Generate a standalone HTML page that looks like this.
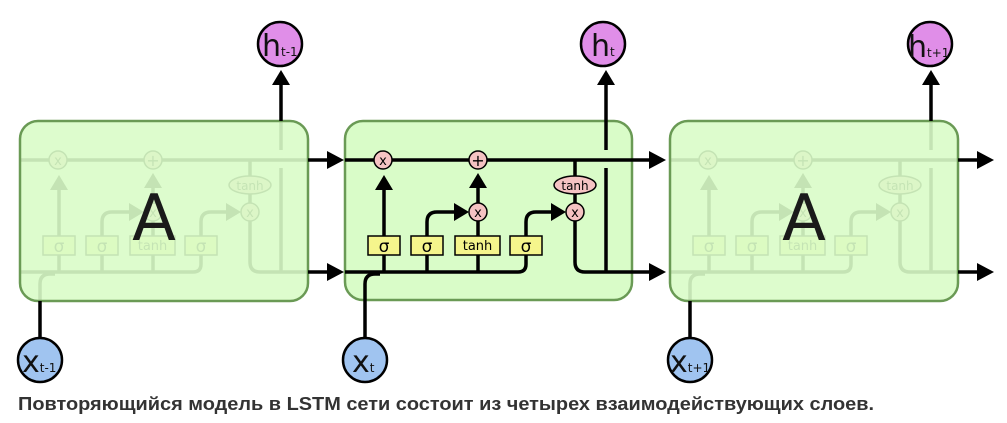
<!DOCTYPE html>
<html><head><meta charset="utf-8"><style>
html,body{margin:0;padding:0;background:#fff;width:1007px;height:423px;overflow:hidden}
svg{display:block}
</style></head><body>
<svg width="1007" height="423" viewBox="0 0 1007 423" xmlns="http://www.w3.org/2000/svg" font-family="DejaVu Sans, Liberation Sans, sans-serif">
<defs>
<g id="internals" fill="none" stroke="#000" stroke-width="3.5">
  <line x1="345" y1="160" x2="632" y2="160"/>
  <path d="M345 272 H518 Q526 272 526 264 V222 Q526 212 536 212 H552"/>
  <polygon points="551,203 566,212 551,221" fill="#000" stroke="none"/>
  <line x1="384" y1="272" x2="384" y2="190"/>
  <polygon points="375,190 384,175 393,190" fill="#000" stroke="none"/>
  <path d="M427 272 V222 Q427 212 437 212 H455"/>
  <polygon points="454,203 469,212 454,221" fill="#000" stroke="none"/>
  <line x1="478" y1="272" x2="478" y2="221"/>
  <line x1="478" y1="203" x2="478" y2="188"/>
  <polygon points="469,188 478,173 487,188" fill="#000" stroke="none"/>
  <path d="M575 160 V176"/>
  <path d="M575 194 V203"/>
  <path d="M575 221 V262 Q575 272 585 272 H632"/>
  <path d="M606 272 V168"/>
  <path d="M606 150 V121"/>
  <path d="M365 300 V284 Q365 274 375 274 H380"/>
  <g stroke-width="1.5">
  <circle cx="383" cy="160" r="9" fill="#f5c3c3"/>
  <circle cx="478" cy="160" r="9" fill="#f5c3c3"/>
  <circle cx="478" cy="212" r="9" fill="#f5c3c3"/>
  <circle cx="575" cy="212" r="9" fill="#f5c3c3"/>
  <ellipse cx="575" cy="185" rx="21" ry="9" fill="#f5c3c3"/>
  <rect x="368" y="236" width="32" height="19" fill="#f5f58c"/>
  <rect x="411" y="236" width="32" height="19" fill="#f5f58c"/>
  <rect x="455" y="236" width="45" height="19" fill="#f5f58c"/>
  <rect x="510" y="236" width="32" height="19" fill="#f5f58c"/>
  </g>
  <g fill="#000" stroke="none" text-anchor="middle">
  <text x="383" y="165" font-size="13">x</text>
  <text x="478" y="166" font-size="16">+</text>
  <text x="478" y="217" font-size="13">x</text>
  <text x="575" y="217" font-size="13">x</text>
  <text x="575" y="190" font-size="12">tanh</text>
  <text x="384" y="252" font-size="17">σ</text>
  <text x="427" y="252" font-size="17">σ</text>
  <text x="477.5" y="250" font-size="13">tanh</text>
  <text x="526" y="252" font-size="17">σ</text>
  </g>
</g>
</defs>

<rect x="345" y="121" width="287" height="179" rx="18" fill="#d9fcc8" stroke="#6a9a55" stroke-width="2.5"/>
<use href="#internals"/>

<g transform="translate(-325,0)"><use href="#internals"/></g>
<rect x="20" y="121" width="288" height="180" rx="18" fill="#d9fcc8" fill-opacity="0.9" stroke="#6a9a55" stroke-width="2.5"/>
<text x="154" y="240" font-size="64" text-anchor="middle" fill="#1a1a1a">A</text>

<g transform="translate(325,0)"><use href="#internals"/></g>
<rect x="670" y="121" width="288" height="180" rx="18" fill="#d9fcc8" fill-opacity="0.9" stroke="#6a9a55" stroke-width="2.5"/>
<text x="804" y="240" font-size="64" text-anchor="middle" fill="#1a1a1a">A</text>

<g stroke="#000" stroke-width="3.5" fill="none">
  <line x1="308" y1="160" x2="328" y2="160"/>
  <line x1="308" y1="272" x2="328" y2="272"/>
  <line x1="632" y1="160" x2="650" y2="160"/>
  <line x1="632" y1="272" x2="650" y2="272"/>
  <line x1="958" y1="160" x2="978" y2="160"/>
  <line x1="958" y1="272" x2="978" y2="272"/>
  <line x1="281" y1="121" x2="281" y2="84"/>
  <line x1="606" y1="121" x2="606" y2="84"/>
  <line x1="931" y1="121" x2="931" y2="84"/>
  <line x1="40" y1="301" x2="40" y2="337"/>
  <line x1="365" y1="300" x2="365" y2="337"/>
  <line x1="690" y1="301" x2="690" y2="337"/>
</g>
<g fill="#000">
  <polygon points="327,151 344,160 327,169"/>
  <polygon points="327,263 344,272 327,281"/>
  <polygon points="649,151 666,160 649,169"/>
  <polygon points="649,263 666,272 649,281"/>
  <polygon points="977,151 994,160 977,169"/>
  <polygon points="977,263 994,272 977,281"/>
  <polygon points="272,85 281,70 290,85"/>
  <polygon points="597,85 606,70 615,85"/>
  <polygon points="922,85 931,70 940,85"/>
</g>

<g stroke="#000" stroke-width="2.5">
  <circle cx="280" cy="44" r="22" fill="#e08ee8"/>
  <circle cx="603" cy="44" r="22" fill="#e08ee8"/>
  <circle cx="930" cy="44" r="22" fill="#e08ee8"/>
  <circle cx="40" cy="360" r="22" fill="#a0c4f0"/>
  <circle cx="365" cy="360" r="22" fill="#a0c4f0"/>
  <circle cx="690" cy="360" r="22" fill="#a0c4f0"/>
</g>
<g fill="#111">
  <text x="262" y="56" font-size="30">h<tspan font-size="12">t-1</tspan></text>
  <text x="591" y="56" font-size="30">h<tspan font-size="12">t</tspan></text>
  <text x="908" y="57" font-size="30">h<tspan font-size="12">t+1</tspan></text>
  <text x="22" y="372" font-size="30">x<tspan font-size="12">t-1</tspan></text>
  <text x="352" y="372" font-size="30">x<tspan font-size="12">t</tspan></text>
  <text x="670" y="372" font-size="30">x<tspan font-size="12">t+1</tspan></text>
</g>

<text x="18" y="410" font-family="Liberation Sans, sans-serif" font-size="18" font-weight="bold" fill="#333" textLength="856" lengthAdjust="spacingAndGlyphs">Повторяющийся модель в LSTM сети состоит из четырех взаимодействующих слоев.</text>
</svg>
</body></html>
